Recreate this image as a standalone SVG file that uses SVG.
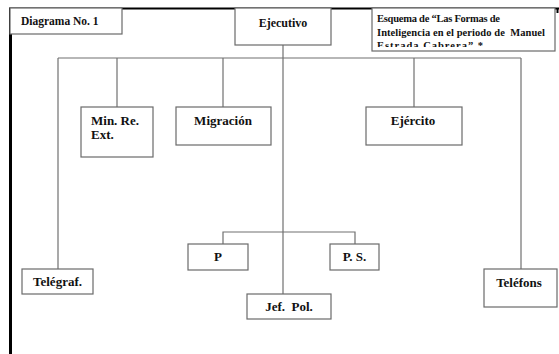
<svg xmlns="http://www.w3.org/2000/svg" width="559" height="354" viewBox="0 0 559 354">
<style>
.box{fill:#fff;stroke:#6a6a6a;stroke-width:1.2}
.t{font-family:"Liberation Serif","Times New Roman",serif;font-weight:bold;font-size:13px;fill:#111;text-anchor:middle}
.s{font-family:"Liberation Serif","Times New Roman",serif;font-weight:bold;font-size:10.5px;fill:#111}
.c{fill:none;stroke:#707070;stroke-width:1.2}
</style>
<defs>
<clipPath id="clipEsq"><rect x="372" y="8" width="183" height="39"/></clipPath>
</defs>
<rect width="559" height="354" fill="#fff"/>
<g id="frame" stroke="#000" fill="none">
<line x1="9" y1="8.5" x2="559" y2="8.5" stroke-width="2"/>
<line x1="10.5" y1="8" x2="10.5" y2="354" stroke-width="3"/>
<line x1="557.5" y1="8" x2="557.5" y2="13" stroke-width="2"/>
</g>
<g id="connectors" class="c">
<line x1="283" y1="45" x2="283" y2="294"/>
<line x1="58" y1="58" x2="521" y2="58"/>
<line x1="58" y1="58" x2="58" y2="269"/>
<line x1="521" y1="58" x2="521" y2="269"/>
<line x1="117" y1="58" x2="117" y2="107"/>
<line x1="223" y1="58" x2="223" y2="107"/>
<line x1="414" y1="58" x2="414" y2="107"/>
<polyline points="223,244 223,232 355,232 355,244"/>
</g>
<g id="diagrama"><rect class="box" x="10" y="8" width="112" height="26"/><text class="s" x="21" y="25" style="font-size:11.5px">Diagrama No. 1</text></g>
<g id="ejecutivo"><rect class="box" x="235" y="8" width="96" height="37"/><text class="t" x="283" y="27" style="font-size:12px">Ejecutivo</text></g>
<g id="esquema"><rect class="box" x="372" y="8" width="183" height="43"/>
<g clip-path="url(#clipEsq)">
<text class="s" x="377" y="22" textLength="123" lengthAdjust="spacing">Esquema de “Las Formas de</text>
<text class="s" x="377" y="36" textLength="168" lengthAdjust="spacing" xml:space="preserve">Inteligencia en el periodo de  Manuel</text>
<text class="s" x="377" y="49" textLength="106" lengthAdjust="spacing">Estrada Cabrera” *</text>
</g></g>
<g id="minre"><rect class="box" x="81" y="107" width="72" height="50"/><text class="t" x="91" y="125" style="text-anchor:start">Min. Re.</text><text class="t" x="91" y="139" style="text-anchor:start">Ext.</text></g>
<g id="migracion"><rect class="box" x="176" y="107" width="95" height="38"/><text class="t" x="223" y="125">Migración</text></g>
<g id="ejercito"><rect class="box" x="366" y="107" width="96" height="38"/><text class="t" x="413" y="125">Ejército</text></g>
<g id="telegraf"><rect class="box" x="22" y="269" width="71" height="25"/><text class="t" x="57.5" y="286">Telégraf.</text></g>
<g id="p"><rect class="box" x="188" y="244" width="60" height="26"/><text class="t" x="218" y="261">P</text></g>
<g id="ps"><rect class="box" x="330" y="244" width="49" height="26"/><text class="t" x="354.5" y="261">P. S.</text></g>
<g id="jefpol"><rect class="box" x="247" y="294" width="84" height="25"/><text class="t" x="289" y="311" xml:space="preserve">Jef.  Pol.</text></g>
<g id="telefons"><rect class="box" x="484" y="269" width="73" height="38"/><text class="t" x="519" y="287">Teléfons</text></g>
</svg>
